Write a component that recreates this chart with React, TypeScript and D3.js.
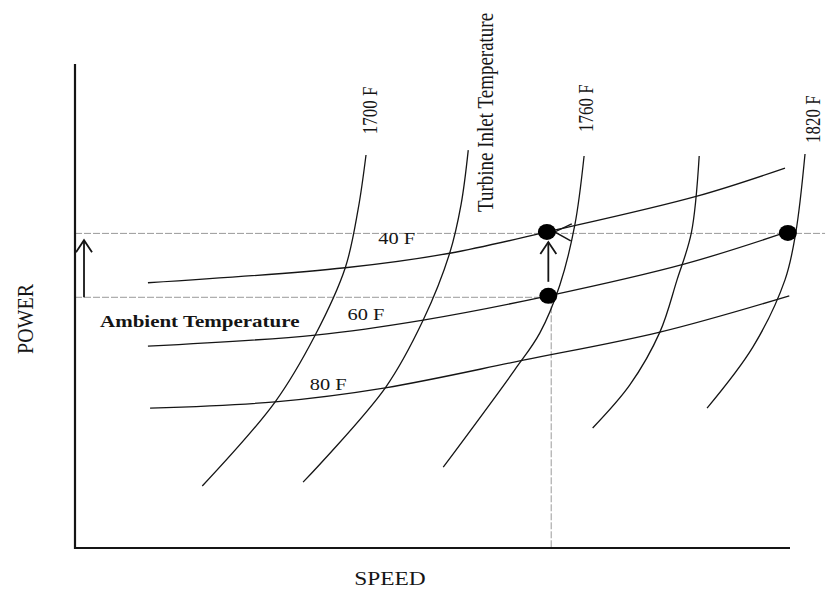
import React from 'react';
import * as d3 from 'd3';

const W = 827;
const H = 593;

// Abstract units: speed (x) and power (y), both 0–100
const speedDomain: [number, number] = [0, 100];
const powerDomain: [number, number] = [0, 100];

// Ambient temperature lines (speed, power)
const ambientNames = ['40 F', '60 F', '80 F'];
const ambient40: [number, number][] = [[10.2, 54.8], [37.8, 57.9], [52.4, 60.9], [66.0, 65.3], [87.0, 72.7], [99.3, 78.5]];
const ambient60: [number, number][] = [[10.2, 41.7], [33.6, 44.0], [48.7, 47.1], [66.2, 52.1], [85.3, 58.7], [99.6, 65.3]];
const ambient80: [number, number][] = [[10.5, 28.9], [28.0, 30.2], [43.4, 33.1], [62.7, 38.8], [81.8, 44.6], [99.9, 52.1]];
const ambientLabelPos: [number, number][] = [[45.0, 62.8], [40.7, 47.1], [35.4, 32.7]];

// Turbine inlet temperature lines (top to bottom)
const turbineNames = ['1700 F', '', '1760 F', '', '1820 F'];
const turbine1: [number, number][] = [[40.7, 81.2], [39.6, 70.0], [37.8, 57.9], [33.6, 44.0], [28.0, 30.2], [17.8, 12.8]];
const turbine2: [number, number][] = [[55.0, 82.2], [54.0, 71.0], [52.4, 60.9], [48.7, 47.1], [43.4, 33.1], [31.9, 13.6]];
const turbine3: [number, number][] = [[71.2, 81.0], [69.9, 66.7], [67.8, 54.3], [65.0, 44.4], [61.5, 36.8], [51.5, 16.7]];
const turbine4: [number, number][] = [[87.3, 81.0], [86.2, 65.1], [84.2, 55.4], [81.8, 44.6], [77.6, 33.7], [72.4, 24.8]];
const turbine5: [number, number][] = [[102.1, 81.4], [100.8, 65.1], [99.3, 55.4], [94.8, 41.5], [88.4, 28.9]];
// label anchor: speed of baseline, power of centre
const turbineLabelPos: [number, number][] = [[42.2, 90.4], [0, 0], [72.5, 90.9], [0, 0], [104.2, 88.6]];
const turbineTitle = 'Turbine Inlet Temperature';
const turbineTitlePos: [number, number] = [58.5, 90.0];

// Operating points
const points: [number, number][] = [[66.0, 65.3], [66.2, 52.1], [99.7, 65.1]];

// Reference levels
const highPower = 65.0;
const lowPower = 51.8;
const refSpeed = 66.6;
const refRightEnd = 104.9;

// Arrows: [speed, fromPower, toPower]
const vArrows: [number, number, number][] = [[1.26, 51.8, 63.6], [66.2, 55.0, 63.2]];
const leftArrowTip: [number, number] = [67.1, 65.3];

const xTitle = 'SPEED';
const yTitle = 'POWER';
const ambientTitle = 'Ambient Temperature';

const FONT = '"Liberation Serif", "Times New Roman", serif';
const SX = 1.2;

export default function App() {
  const x = d3.scaleLinear().domain(speedDomain).range([75, 790]);
  const y = d3.scaleLinear().domain(powerDomain).range([548, 64]);
  const line = d3
    .line<[number, number]>()
    .x((d) => x(d[0]))
    .y((d) => y(d[1]))
    .curve(d3.curveCatmullRom.alpha(0.5));

  const ambient = [ambient40, ambient60, ambient80];
  const turbine = [turbine1, turbine2, turbine3, turbine4, turbine5];
  const ink = '#151515';

  const hText = (t: string, px: number, py: number, size: number, anchor: string, bold = false, key?: string) => (
    <text
      key={key ?? t}
      transform={`translate(${px},${py}) scale(${SX},1)`}
      textAnchor={anchor}
      fontFamily={FONT}
      fontSize={size}
      fontWeight={bold ? 'bold' : 'normal'}
      fill={ink}
    >
      {t}
    </text>
  );
  const vText = (t: string, px: number, py: number, size: number, key?: string) => (
    <text
      key={key ?? t}
      transform={`translate(${px},${py}) scale(${SX},1) rotate(-90)`}
      textAnchor="middle"
      fontFamily={FONT}
      fontSize={size}
      fill={ink}
    >
      {t}
    </text>
  );

  const tip = [x(leftArrowTip[0]), y(leftArrowTip[1])];

  return (
    <svg width={W} height={H} style={{ position: 'absolute', left: 0, top: 0, background: '#fff' }}>
      <rect width={W} height={H} fill="#fff" />
      {/* reference dashed lines */}
      <g stroke="#9a9a9a" strokeWidth={1} strokeDasharray="7 2" fill="none">
        <line x1={x(0)} x2={x(refRightEnd)} y1={y(highPower)} y2={y(highPower)} />
        <line x1={x(0)} x2={x(refSpeed)} y1={y(lowPower)} y2={y(lowPower)} />
        <line x1={x(refSpeed)} x2={x(refSpeed)} y1={y(lowPower)} y2={y(0)} />
      </g>
      {/* axes */}
      <g stroke={ink} strokeWidth={2.2} fill="none">
        <line x1={x(0)} x2={x(0)} y1={y(100)} y2={y(0) + 1} />
        <line x1={x(0)} x2={x(100)} y1={y(0)} y2={y(0)} />
      </g>
      {/* curves */}
      <g stroke={ink} strokeWidth={1.3} fill="none">
        {ambient.map((d, i) => (
          <path key={'a' + i} d={line(d) || ''} />
        ))}
        {turbine.map((d, i) => (
          <path key={'t' + i} d={line(d) || ''} />
        ))}
      </g>
      {/* arrows */}
      <g stroke={ink} strokeWidth={1.8} fill="none">
        {vArrows.map((a, i) => {
          const ax = x(a[0]);
          const y0 = y(a[1]);
          const y1 = y(a[2]);
          return (
            <g key={'va' + i}>
              <line x1={ax} x2={ax} y1={y0} y2={y1} />
              <path d={`M${ax - 8},${y1 + 12} L${ax},${y1} L${ax + 8},${y1 + 12}`} />
            </g>
          );
        })}
        <path d={`M${tip[0] + 17},${tip[1] - 8} L${tip[0]},${tip[1]} L${tip[0] + 16},${tip[1] + 9}`} strokeWidth={1.4} />
      </g>
      {/* points */}
      {points.map((p, i) => (
        <ellipse key={'p' + i} cx={x(p[0])} cy={y(p[1])} rx={9} ry={8} fill="#000" />
      ))}
      {/* labels */}
      {ambientNames.map((n, i) => hText(n, x(ambientLabelPos[i][0]), y(ambientLabelPos[i][1]), 17, 'middle', false, 'al' + i))}
      {turbineNames.map((n, i) => (n ? vText(n, x(turbineLabelPos[i][0]), y(turbineLabelPos[i][1]), 17, 'tl' + i) : null))}
      {vText(turbineTitle, x(turbineTitlePos[0]), y(turbineTitlePos[1]), 19, 'tt')}
      {hText(ambientTitle, 100, 327, 17.5, 'start', true, 'amb')}
      {hText(xTitle, 390, 585, 19.5, 'middle', false, 'xt')}
      {vText(yTitle, 33, 319, 20, 'yt')}
    </svg>
  );
}
